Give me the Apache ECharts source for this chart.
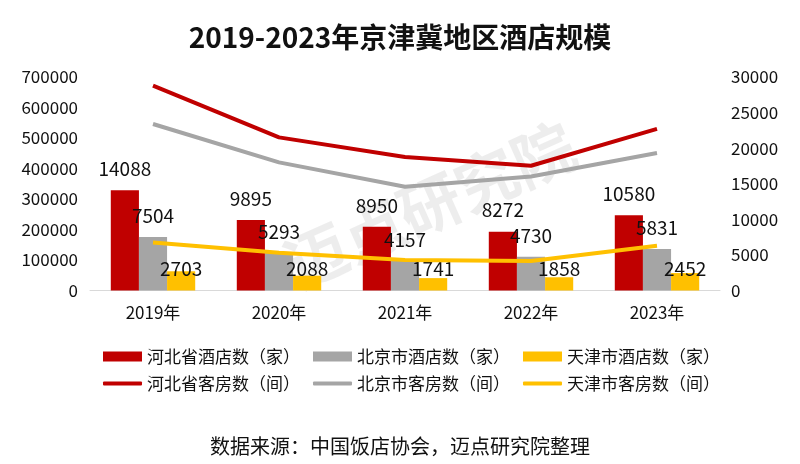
<!DOCTYPE html>
<html>
<head>
<meta charset="utf-8">
<script src="https://cdn.jsdelivr.net/npm/echarts@6/dist/echarts.min.js"></script>
<style>html,body{margin:0;padding:0;background:#fff}#c{width:800px;height:464px}</style>
</head>
<body>
<div id="c"></div>
<script>
const categories = ['2019年', '2020年', '2021年', '2022年', '2023年'];
const hebeiHotels = [14088, 9895, 8950, 8272, 10580];
const beijingHotels = [7504, 5293, 4157, 4730, 5831];
const tianjinHotels = [2703, 2088, 1741, 1858, 2452];
const hebeiRooms = [672000, 502000, 438000, 409000, 530000];
const beijingRooms = [546000, 420000, 340000, 374000, 451000];
const tianjinRooms = [157000, 124000, 100000, 97000, 147000];
const leftTicks = { min: 0, max: 700000, interval: 100000 };
const rightTicks = { min: 0, max: 30000, interval: 5000 };

const FONT = '"Noto Sans CJK SC", "Noto Sans", sans-serif';
const RED = '#C00000', GRAY = '#A5A5A5', YELLOW = '#FFC000';
const chart = echarts.init(document.getElementById('c'), null, { renderer: 'canvas' });

const barLabel = (pos, dist) => ({
  show: true, position: pos, distance: dist,
  color: '#111', fontSize: 19, fontFamily: FONT
});
const plain = v => String(v);

chart.setOption({
  animation: false,
  backgroundColor: '#fff',
  textStyle: { fontFamily: FONT },
  title: {
    text: '2019-2023年京津冀地区酒店规模',
    left: 'center', top: 18,
    textStyle: { fontSize: 28, fontWeight: 'bold', color: '#111', fontFamily: FONT }
  },
  graphic: [
    {
      type: 'text', left: 'center', top: 436,
      style: { text: '数据来源：中国饭店协会，迈点研究院整理', fontSize: 20, fill: '#111', fontFamily: FONT }
    },
    {
      type: 'text', x: 430, y: 205, rotation: 0.42, originX: 0, originY: 0,
      style: { text: '迈点研究院', fontSize: 62, fontWeight: 'bold', fill: 'rgba(0,0,0,0.07)', fontFamily: FONT, align: 'center', verticalAlign: 'middle' },
      z: -1
    }
  ],
  legend: [
    {
      data: [
        { name: '河北省酒店数（家）', icon: 'rect' },
        { name: '北京市酒店数（家）', icon: 'rect' },
        { name: '天津市酒店数（家）', icon: 'rect' }
      ],
      left: 98, top: 343, itemWidth: 39, itemHeight: 10, itemGap: 13,
      textStyle: { fontSize: 17, color: '#111', fontFamily: FONT }
    },
    {
      data: [
        { name: '河北省客房数（间）', icon: 'roundRect' },
        { name: '北京市客房数（间）', icon: 'roundRect' },
        { name: '天津市客房数（间）', icon: 'roundRect' }
      ],
      left: 98, top: 370, itemWidth: 39, itemHeight: 4, itemGap: 13,
      textStyle: { fontSize: 17, color: '#111', fontFamily: FONT }
    }
  ],
  grid: { left: 90, right: 80, top: 77, bottom: 173.5, containLabel: false },
  xAxis: {
    type: 'category', data: categories,
    axisLine: { lineStyle: { color: '#D9D9D9', width: 1 } },
    axisTick: { show: false },
    axisLabel: { fontSize: 17, color: '#111', margin: 14, fontFamily: FONT }
  },
  yAxis: [
    {
      type: 'value', position: 'left', min: leftTicks.min, max: leftTicks.max, interval: leftTicks.interval,
      splitLine: { show: false }, axisLine: { show: false }, axisTick: { show: false },
      axisLabel: { fontSize: 17, color: '#111', margin: 12, fontFamily: FONT, formatter: plain }
    },
    {
      type: 'value', position: 'right', min: rightTicks.min, max: rightTicks.max, interval: rightTicks.interval,
      splitLine: { show: false }, axisLine: { show: false }, axisTick: { show: false },
      axisLabel: { fontSize: 17, color: '#111', margin: 11, fontFamily: FONT, formatter: plain }
    }
  ],
  series: [
    { name: '河北省酒店数（家）', type: 'bar', yAxisIndex: 1, data: hebeiHotels, barGap: '0%', barCategoryGap: '33%',
      itemStyle: { color: RED }, label: barLabel('top', 12), z: 2 },
    { name: '北京市酒店数（家）', type: 'bar', yAxisIndex: 1, data: beijingHotels,
      itemStyle: { color: GRAY }, label: barLabel('top', 12), z: 2 },
    { name: '天津市酒店数（家）', type: 'bar', yAxisIndex: 1, data: tianjinHotels,
      itemStyle: { color: YELLOW }, label: barLabel('insideBottom', 12), z: 2 },
    { name: '河北省客房数（间）', type: 'line', yAxisIndex: 0, data: hebeiRooms, symbol: 'none',
      lineStyle: { color: RED, width: 4 }, itemStyle: { color: RED }, z: 3 },
    { name: '北京市客房数（间）', type: 'line', yAxisIndex: 0, data: beijingRooms, symbol: 'none',
      lineStyle: { color: GRAY, width: 4 }, itemStyle: { color: GRAY }, z: 3 },
    { name: '天津市客房数（间）', type: 'line', yAxisIndex: 0, data: tianjinRooms, symbol: 'none',
      lineStyle: { color: YELLOW, width: 4 }, itemStyle: { color: YELLOW }, z: 3 }
  ]
});
</script>
</body>
</html>
